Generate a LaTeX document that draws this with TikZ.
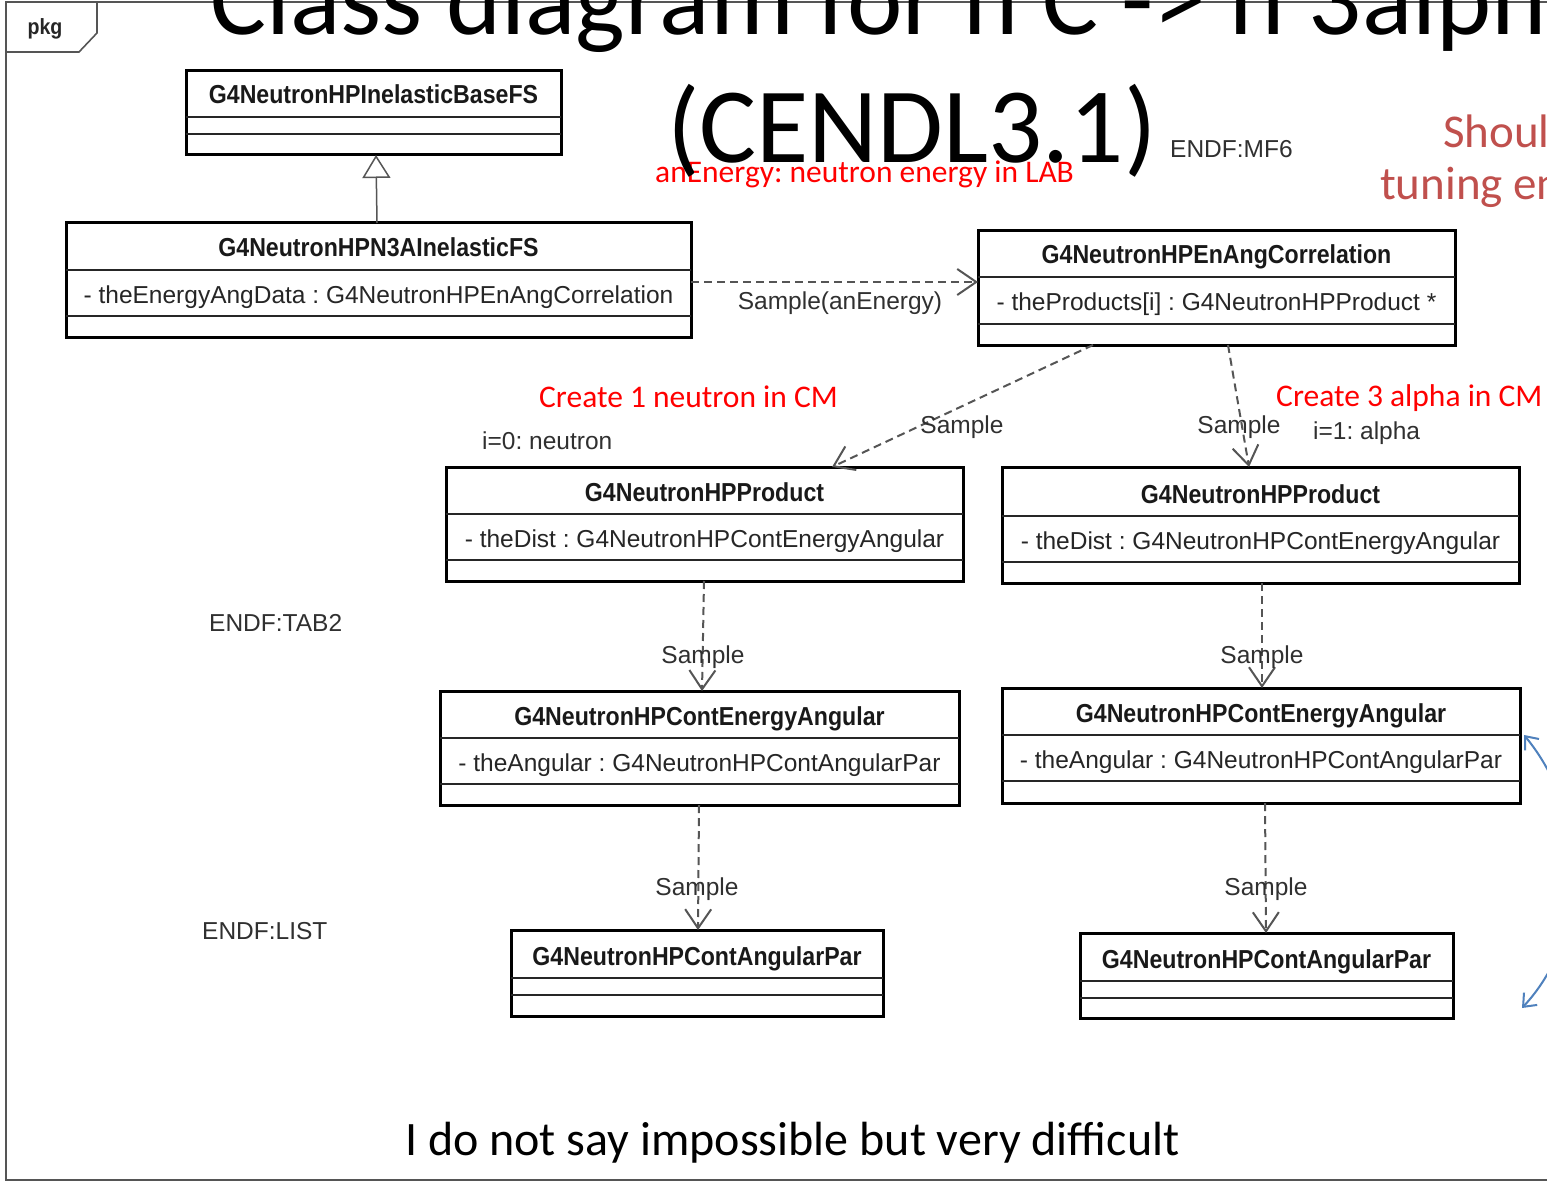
\documentclass[tikz,border=0pt]{standalone}
\usepackage{fontspec}
\setmainfont{Carlito}
\newfontfamily\umlfont{Liberation Sans}
\newfontfamily\umlbfont[FakeStretch=0.89]{Liberation Sans}
\usetikzlibrary{arrows.meta,calc}
\definecolor{umlgray}{HTML}{555555}
\definecolor{labgray}{HTML}{303030}
\definecolor{shouldred}{HTML}{C0504D}
\definecolor{arcblue}{HTML}{4F81BD}
\frenchspacing
\tikzset{
  clsbox/.style={draw=black, line width=3pt, inner sep=0pt, outer sep=0pt, rectangle},
  clssep/.style={draw=black!85, line width=2pt},
  clshead/.style={font=\umlbfont\bfseries\fontsize{26}{30}\selectfont, inner sep=0pt, text=black!90, anchor=base},
  clsattr/.style={font=\umlfont\fontsize{24.5}{28}\selectfont, inner sep=0pt, text=black!85, anchor=base},
  glabel/.style={font=\umlfont\fontsize{24.5}{28}\selectfont, inner sep=0pt, text=labgray},
  redlabel/.style={font=\fontsize{31.5}{36}\selectfont, inner sep=0pt, text=red, anchor=base west},
  deparrow/.style={draw=umlgray, line width=2pt, dash pattern=on 8pt off 5pt,
    -{Straight Barb[length=19pt,width=26pt,line width=2pt]}},
  genarrow/.style={draw=umlgray, line width=1.5pt,
    -{Triangle[open,length=23pt,width=28pt,line width=1.5pt]}},
}
\newcommand{\umlcls}[9]{%
  \node[clsbox, minimum width={#4pt-#2pt}, minimum height={#5pt-#3pt}, anchor=north west] (#1) at (#2,#3) {};
  \draw[clssep] (#1.west |- 0,#6) -- (#1.east |- 0,#6);
  \draw[clssep] (#1.west |- 0,#7) -- (#1.east |- 0,#7);
  \node[clshead] (#1-h) at ([yshift=13pt]#1.north |- 0,#6) {#8};
  \node[clsattr] (#1-a) at ([yshift=13pt]#1.north |- 0,#7) {#9};
}
\begin{document}
\begin{tikzpicture}[x=1pt,y=-1pt]
\useasboundingbox (0,0) rectangle (1547,1182);
\clip (0,0) rectangle (1547,1182);
\fill[white] (0,0) rectangle (1547,1182);

% package frame
\draw[umlgray, line width=1.6pt] (1560,2) -- (6,2) -- (6,1180) -- (1560,1180);
\draw[umlgray, line width=1.6pt] (6,52) -- (79,52) -- (97,33) -- (97,2);
\node[font=\umlbfont\bfseries\fontsize{22}{26}\selectfont, inner sep=0pt, text=black!85] (pkg) at (45,29) {pkg};

% classes
\umlcls{base}{186}{71}{561}{155}{117}{134}{G4NeutronHPInelasticBaseFS}{}
\umlcls{n3a}{66}{223}{691}{337}{270}{316}{G4NeutronHPN3AInelasticFS}{- theEnergyAngData : G4NeutronHPEnAngCorrelation}
\umlcls{enang}{978}{231}{1455}{345}{277}{324}{G4NeutronHPEnAngCorrelation}{- theProducts[i] : G4NeutronHPProduct *}
\umlcls{prodL}{446}{467}{963}{581}{514}{560}{G4NeutronHPProduct}{- theDist : G4NeutronHPContEnergyAngular}
\umlcls{prodR}{1002}{467}{1519}{583}{516}{562}{G4NeutronHPProduct}{- theDist : G4NeutronHPContEnergyAngular}
\umlcls{ceaL}{440}{691}{959}{805}{738}{784}{G4NeutronHPContEnergyAngular}{- theAngular : G4NeutronHPContAngularPar}
\umlcls{ceaR}{1002}{688}{1520}{803}{735}{781}{G4NeutronHPContEnergyAngular}{- theAngular : G4NeutronHPContAngularPar}
\umlcls{apL}{511}{930}{883}{1016}{978}{995}{G4NeutronHPContAngularPar}{}
\umlcls{apR}{1080}{933}{1453}{1018}{981}{998}{G4NeutronHPContAngularPar}{}

% connectors
\draw[genarrow] (n3a.north -| 377,0) -- (base.south -| 376,0);
\draw[deparrow] (n3a.east |- 0,282) -- (enang.west |- 0,282);
\draw[deparrow] (enang.south -| 1093,0) -- (prodL.north -| 832,0);
\draw[deparrow] (enang.south -| 1228,0) -- (prodR.north -| 1249,0);
\draw[deparrow] (prodL.south -| 704,0) -- (ceaL.north -| 702,0);
\draw[deparrow] (prodR.south -| 1262,0) -- (ceaR.north -| 1262,0);
\draw[deparrow] (ceaL.south -| 699,0) -- (apL.north -| 698,0);
\draw[deparrow] (ceaR.south -| 1265,0) -- (apR.north -| 1266,0);

% connector labels
\node[glabel] (l0) at (840,303) {Sample(anEnergy)};
\node[glabel] (l1) at (962,427) {Sample};
\node[glabel] (l2) at (1239,427) {Sample};
\node[glabel] (l3) at (703,657) {Sample};
\node[glabel] (l4) at (1262,657) {Sample};
\node[glabel] (l5) at (697,889) {Sample};
\node[glabel] (l6) at (1266,889) {Sample};

% gray notes
\node[glabel, anchor=west] (mf6) at (1170,149) {ENDF:MF6};
\node[glabel, anchor=west] (i0) at (482,441) {i=0: neutron};
\node[glabel, anchor=west] (i1) at (1313,433) {i=1: alpha};
\node[glabel, anchor=west] (tab2) at (209,623) {ENDF:TAB2};
\node[glabel, anchor=west] (list) at (202,931) {ENDF:LIST};

% red notes
\node[redlabel] (anE) at (655,183) {anEnergy: neutron energy in LAB};
\node[redlabel] (c1) at (539,407) {Create 1 neutron in CM};
\node[redlabel] (c3) at (1276,406) {Create 3 alpha in CM};
\node[font=\fontsize{47}{52}\selectfont, inner sep=0pt, text=shouldred, anchor=base west] (sh1) at (1443,148) {Should};
\node[font=\fontsize{47}{52}\selectfont, inner sep=0pt, text=shouldred, anchor=base west] (sh2) at (1380,200) {tuning energy};

% title
\node[font=\fontsize{105}{126}\selectfont, inner sep=0pt, anchor=base west] (title1) at (210,35) {Class diagram for n C -> n 3alpha};
\node[font=\fontsize{107}{126}\selectfont, inner sep=0pt, anchor=base west] (title2) at (667,163) {(CENDL3.1)};

% bottom remark
\node[font=\fontsize{48}{56}\selectfont, inner sep=0pt, anchor=base west] (remark) at (405,1155) {I do not say impossible but very difficult};

% blue arc
\coordinate (arcA) at (1524,735);
\coordinate (arcB) at (1522,1008);
\draw[arcblue, line width=2pt, {Straight Barb[length=11pt,width=18pt]}-{Straight Barb[length=11pt,width=18pt]}]
  (arcA) .. controls (1590,815) and (1590,935) .. (arcB);
\end{tikzpicture}
\end{document}
